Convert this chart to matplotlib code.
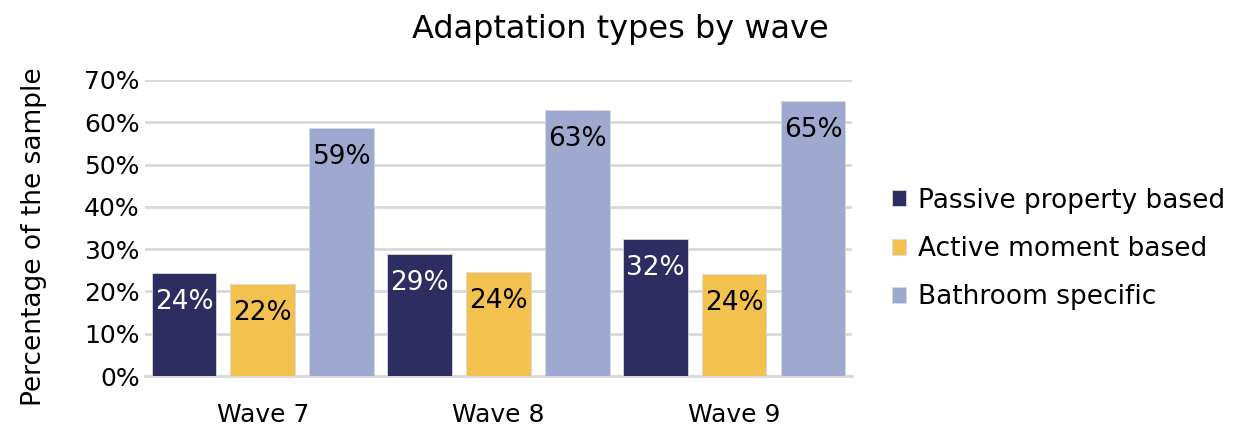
import numpy as np
import matplotlib
matplotlib.use("Agg")
import matplotlib.pyplot as plt
from matplotlib.ticker import PercentFormatter

# Data
waves = ["Wave 7", "Wave 8", "Wave 9"]
series_names = ["Passive property based", "Active moment based", "Bathroom specific"]
passive = [24.3, 28.9, 32.4]
active = [21.7, 24.6, 24.1]
bathroom = [58.6, 62.9, 65.0]
value_labels = [["24%", "29%", "32%"], ["22%", "24%", "24%"], ["59%", "63%", "65%"]]

colors = ["#2E2D62", "#F2C14E", "#9FA8CE"]
label_colors = ["white", "black", "black"]

plt.rcParams["font.family"] = ["DejaVu Sans"]

fig = plt.figure(figsize=(12.4, 4.25), dpi=100)
ax = fig.add_axes([0.117, 0.115, 0.57, 0.697])

x = np.arange(len(waves))
width = 0.275
step = 0.335

for i, (vals, name) in enumerate(zip([passive, active, bathroom], series_names)):
    pos = x + (i - 1) * step
    bars = ax.bar(pos, vals, width, color=colors[i], label=name, zorder=3,
                  edgecolor="#d8d8e0", linewidth=0.6)
    for b, lab in zip(bars, value_labels[i]):
        ax.annotate(lab, (b.get_x() + b.get_width() / 2, b.get_height()),
                    xytext=(0, -21), textcoords="offset points",
                    ha="center", va="center", fontsize=19,
                    color=label_colors[i], zorder=4)

ax.set_ylim(0, 70)
ax.set_xlim(-0.5, 2.5)
ax.set_yticks(np.arange(0, 71, 10))
ax.yaxis.set_major_formatter(PercentFormatter(decimals=0))
ax.set_xticks(x)
ax.set_xticklabels(waves)
ax.tick_params(axis="both", length=0, labelsize=18, colors="black")
ax.tick_params(axis="x", pad=19)
ax.tick_params(axis="y", pad=4)
ax.grid(axis="y", color="#D9D9D9", linewidth=2, zorder=0)
for side in ["top", "right", "left"]:
    ax.spines[side].set_visible(False)
ax.spines["bottom"].set_color("#D9D9D9")
ax.spines["bottom"].set_linewidth(2)

ax.set_ylabel("Percentage of the sample", fontsize=19)
ax.yaxis.set_label_coords(-0.139, 0.47)
fig.text(0.5, 0.93, "Adaptation types by wave", ha="center", va="center", fontsize=23)

fig.legend(loc="center left", bbox_to_anchor=(0.700, 0.414), frameon=False,
           fontsize=19, handlelength=0.55, handleheight=0.55, handletextpad=0.45,
           labelspacing=0.85)

fig.savefig("out.png", dpi=100)
